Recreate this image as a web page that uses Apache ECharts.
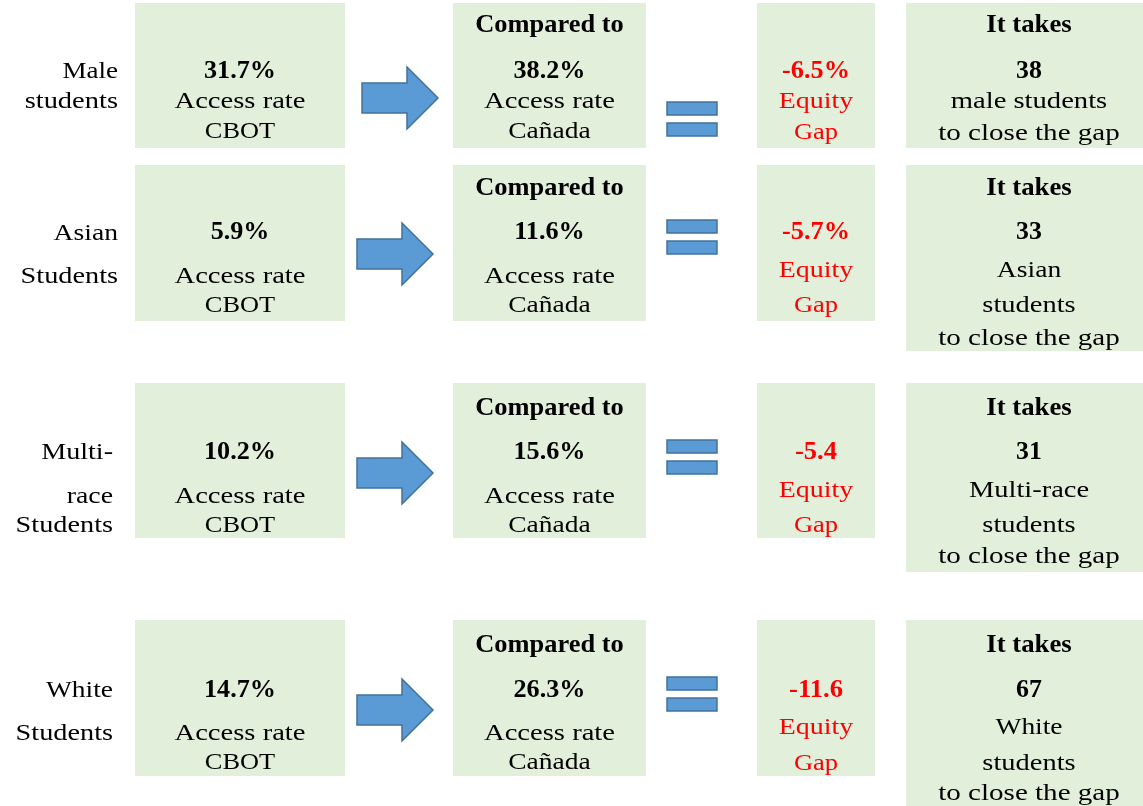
<!DOCTYPE html>
<html>
<head>
<meta charset="utf-8">
<script src="https://cdn.jsdelivr.net/npm/echarts@6/dist/echarts.min.js"></script>
<style>html,body{margin:0;padding:0;background:#fff}#c{width:1143px;height:806px}</style>
</head>
<body>
<div id="c"></div>
<script>
// ---- data ----
const rowLabels = [['Male', 'students'], ['Asian', 'Students'], ['Multi-', 'race', 'Students'], ['White', 'Students']];
const cbotRates = ['31.7%', '5.9%', '10.2%', '14.7%'];
const canadaRates = ['38.2%', '11.6%', '15.6%', '26.3%'];
const equityGaps = ['-6.5%', '-5.7%', '-5.4', '-11.6'];
const studentsNeeded = ['38', '33', '31', '67'];
const studentsText = [['male students'], ['Asian', 'students'], ['Multi-race', 'students'], ['White', 'students']];
const rateCaption = ['Access rate', 'CBOT'];
const canadaCaption = ['Access rate', 'Cañada'];
const gapCaption = ['Equity', 'Gap'];
const comparedHeader = 'Compared to';
const takesHeader = 'It takes';
const closeText = 'to close the gap';

// ---- layout ----
const rowTop = [3, 165, 383, 620];
const rowBottom = [148, 321, 538, 776];
const rightBottom = [148, 351, 572, 806];
const headerY = [24, 187, 407, 644];
const valueY = [70, 231, 451, 689];
const capY = [[100, 130], [275, 304], [495, 524], [732, 761]];
const gapY = [[100, 131], [269, 304], [489, 524], [726, 762]];
const rightY = [[100, 132], [269, 304, 337], [489, 524, 555], [726, 762, 792]];
const labelY = [[70, 100], [232, 275], [451, 495, 524], [689, 732]];
const labelRight = [118, 118, 113, 113];
const arrowX = [362, 357, 357, 357];
const arrowCY = [98, 254, 473, 710];
const eqTop = [102, 220, 440, 677];
const cols = {left: [135, 345], comp: [453, 646], gap: [757, 875], right: [906, 1143]};
const Y_SHIFT = 2;

const BOX = '#E2EFDA';
const BLUE = '#5B9BD5';
const BLUE_S = '#41719C';
const FAMILY = 'Liberation Serif';

const mctx = document.createElement('canvas').getContext('2d');
function stretch(text, size, bold, spacing) {
  mctx.font = (bold ? 'bold ' : '') + size + 'px "' + FAMILY + '"';
  const w = mctx.measureText(text).width;
  return (w + spacing * (text.length - 1)) / w;
}

function txt(text, x, y, opts) {
  opts = opts || {};
  const size = opts.size || 24;
  const bold = !!opts.bold;
  const sp = opts.spacing != null ? opts.spacing : (bold ? 0.8 : 2.1);
  return {
    type: 'text', x: x, y: y + Y_SHIFT, scaleX: stretch(text, size, bold, sp),
    style: {
      text: text, x: 0, y: 0,
      fontFamily: FAMILY,
      fontSize: size,
      fontWeight: bold ? 'bold' : 'normal',
      fill: opts.color || '#000',
      align: opts.align || 'center', verticalAlign: 'middle'
    }
  };
}
function box(x0, x1, y0, y1) {
  return {type: 'rect', shape: {x: x0, y: y0, width: x1 - x0, height: y1 - y0}, style: {fill: BOX}, z: 0};
}

const els = [];
for (let i = 0; i < 4; i++) {
  const cL = (cols.left[0] + cols.left[1]) / 2;
  const cC = (cols.comp[0] + cols.comp[1]) / 2;
  const cG = (cols.gap[0] + cols.gap[1]) / 2;
  const cR = 1029;
  els.push(box(cols.left[0], cols.left[1], rowTop[i], rowBottom[i]));
  els.push(box(cols.comp[0], cols.comp[1], rowTop[i], rowBottom[i]));
  els.push(box(cols.gap[0], cols.gap[1], rowTop[i], rowBottom[i]));
  els.push(box(cols.right[0], cols.right[1], rowTop[i], rightBottom[i]));

  rowLabels[i].forEach((t, k) => els.push(txt(t, labelRight[i], labelY[i][k], {align: 'right'})));
  els.push(txt(cbotRates[i], cL, valueY[i], {bold: true, size: 25}));
  rateCaption.forEach((t, k) => els.push(txt(t, cL, capY[i][k])));
  els.push(txt(comparedHeader, cC, headerY[i], {bold: true, size: 25}));
  els.push(txt(canadaRates[i], cC, valueY[i], {bold: true, size: 25}));
  canadaCaption.forEach((t, k) => els.push(txt(t, cC, capY[i][k])));
  els.push(txt(equityGaps[i], cG, valueY[i], {bold: true, size: 25, color: '#FF0000'}));
  gapCaption.forEach((t, k) => els.push(txt(t, cG, gapY[i][k], {color: '#FF0000'})));
  els.push(txt(takesHeader, cR, headerY[i], {bold: true, size: 25}));
  els.push(txt(studentsNeeded[i], cR, valueY[i], {bold: true, size: 25}));
  studentsText[i].concat([closeText]).forEach((t, k) => els.push(txt(t, cR, rightY[i][k])));

  const ax = arrowX[i], cy = arrowCY[i];
  els.push({
    type: 'polygon',
    shape: {points: [[ax, cy - 15], [ax + 45, cy - 15], [ax + 45, cy - 31], [ax + 76, cy], [ax + 45, cy + 31], [ax + 45, cy + 15], [ax, cy + 15]]},
    style: {fill: BLUE, stroke: BLUE_S, lineWidth: 1.5}
  });
  els.push({type: 'rect', shape: {x: 667, y: eqTop[i], width: 50, height: 13}, style: {fill: BLUE, stroke: BLUE_S, lineWidth: 1.5}});
  els.push({type: 'rect', shape: {x: 667, y: eqTop[i] + 21, width: 50, height: 13}, style: {fill: BLUE, stroke: BLUE_S, lineWidth: 1.5}});
}

const chart = echarts.init(document.getElementById('c'), null, {renderer: 'canvas'});
chart.setOption({
  backgroundColor: '#fff',
  animation: false,
  graphic: {elements: els}
});
</script>
</body>
</html>
